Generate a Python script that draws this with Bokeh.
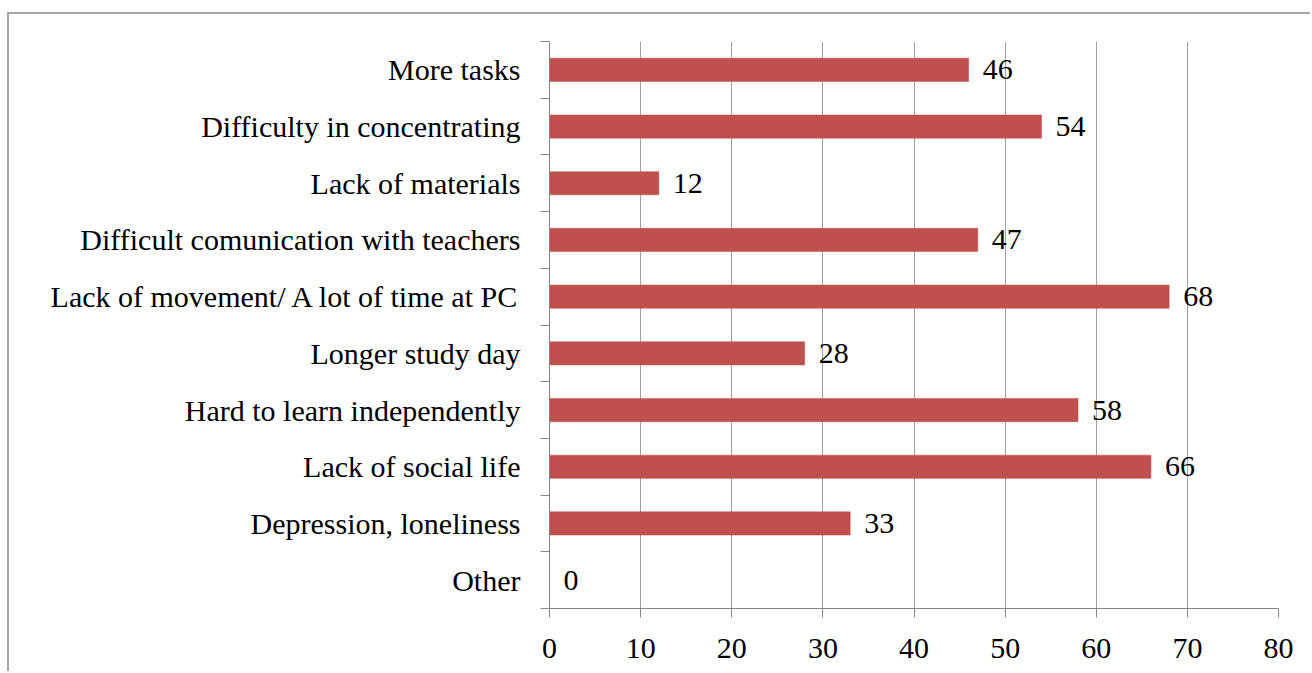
from bokeh.plotting import figure
from bokeh.models import FixedTicker, ColumnDataSource, LabelSet
from bokeh.embed import file_html
from bokeh.resources import INLINE

# Survey answers, listed from bottom to top of the chart
categories = [
    "Other",
    "Depression, loneliness",
    "Lack of social life",
    "Hard to learn independently",
    "Longer study day",
    "Lack of movement/ A lot of time at PC",
    "Difficult comunication with teachers",
    "Lack of materials",
    "Difficulty in concentrating",
    "More tasks",
]
values = [0, 33, 66, 58, 28, 68, 47, 12, 54, 46]
x_ticks = [0, 10, 20, 30, 40, 50, 60, 70, 80]

FONT = "'Liberation Serif', 'Times New Roman', serif"
SIZE = "30px"
BAR = "#C0504D"
AXIS = "#868686"
GRID = "#a0a0a0"

n = len(categories)
centers = [i + 0.5 for i in range(n)]

source = ColumnDataSource(dict(
    y=centers,
    value=values,
    label=[str(v) for v in values],
))

p = figure(
    width=1303, height=659,
    x_range=(0, 80), y_range=(0, n),
    output_backend="svg", toolbar_location=None,
    min_border_left=540, min_border_right=34,
    min_border_top=27, min_border_bottom=65,
    margin=(12, 0, 0, 7),
    styles={"border-top": "2px solid #a6a6a6", "border-left": "2px solid #a6a6a6"},
)
p.outline_line_color = None
p.background_fill_color = "white"
p.border_fill_color = "white"

p.hbar(y="y", right="value", left=0, height=0.41, source=source,
       fill_color=BAR, line_color=BAR, line_width=0.5)

labels = LabelSet(x="value", y="y", text="label", source=source,
                  x_offset=14, text_align="left", text_baseline="middle",
                  text_font=FONT, text_font_size=SIZE, text_color="black")
p.add_layout(labels)

# x axis
p.xaxis.ticker = FixedTicker(ticks=x_ticks)
p.xaxis.axis_line_color = AXIS
p.xaxis.major_tick_line_color = AXIS
p.xaxis.major_tick_out = 9
p.xaxis.major_tick_in = 0
p.xaxis.minor_tick_line_color = None
p.xaxis.major_label_text_font = FONT
p.xaxis.major_label_text_font_size = SIZE
p.xaxis.major_label_text_color = "black"
p.xaxis.major_label_standoff = 21

# y axis: names at bar centres, tick marks between categories
p.yaxis.ticker = FixedTicker(ticks=centers, minor_ticks=list(range(n + 1)))
p.yaxis.major_label_overrides = {c: name for c, name in zip(centers, categories)}
p.yaxis.axis_line_color = AXIS
p.yaxis.major_tick_line_color = None
p.yaxis.minor_tick_line_color = AXIS
p.yaxis.minor_tick_out = 9
p.yaxis.minor_tick_in = 0
p.yaxis.major_label_text_font = FONT
p.yaxis.major_label_text_font_size = SIZE
p.yaxis.major_label_text_color = "black"
p.yaxis.major_label_standoff = 20

p.xgrid.ticker = FixedTicker(ticks=x_ticks[1:])
p.xgrid.grid_line_color = GRID
p.xgrid.grid_line_width = 1
p.ygrid.grid_line_color = None

open("out.html", "w").write(file_html(p, INLINE))
